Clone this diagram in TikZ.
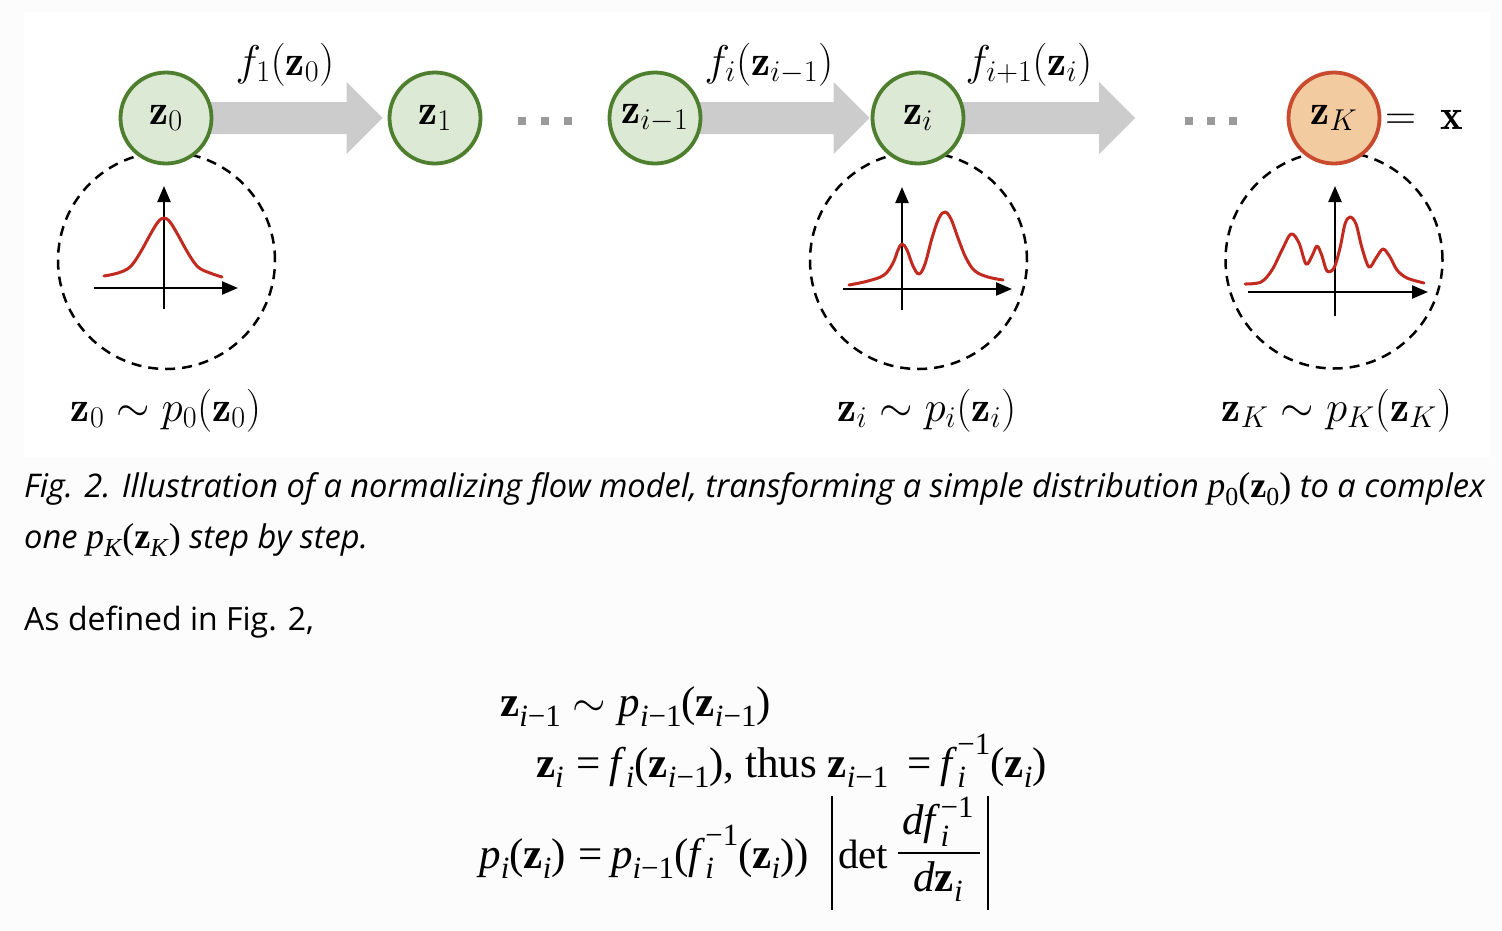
\RequirePackage{fix-cm}
\documentclass[tikz,border=0pt]{standalone}
\usepackage{fontspec}
\usepackage{graphicx}
\newfontfamily\capfont{Open Sans}
\newfontfamily\tms{Liberation Serif}
\usetikzlibrary{arrows.meta,calc,backgrounds}
\definecolor{pagebg}{HTML}{FCFCFC}
\definecolor{nodegreen}{HTML}{DCE9D5}
\definecolor{edgegreen}{HTML}{4E7F2E}
\definecolor{nodeorange}{HTML}{F2CBA0}
\definecolor{edgeorange}{HTML}{C94A2E}
\definecolor{flowgray}{HTML}{CCCCCC}
\definecolor{dotgray}{HTML}{9A9A9A}
\definecolor{curvered}{HTML}{C32A1F}
\newcommand\tsub[1]{\raisebox{-0.24em}{\scalebox{0.72}{#1}}}
\newcommand\tsup[1]{\raisebox{0.52em}{\scalebox{0.72}{#1}}}
\newcommand\tsubsup[2]{\rlap{\tsub{#1}}\tsup{#2}}
\newcommand\nsubsup[2]{\rlap{\raisebox{-0.3em}{\scalebox{0.72}{#1}}}\raisebox{0.38em}{\scalebox{0.72}{#2}}}
\newcommand\flowarrow[2]{%
  \fill[flowgray] ($(#1.center)+(0,-16)$) -- ($(#2)+(-36,-16)$) -- ($(#2)+(-36,-36)$)
    -- (#2) -- ($(#2)+(-36,36)$) -- ($(#2)+(-36,16)$) -- ($(#1.center)+(0,16)$) -- cycle;}
\tikzset{
  latent/.style={circle, draw=edgegreen, fill=nodegreen, line width=3.8pt,
    minimum size=91pt, inner sep=0pt, font=\fontsize{43}{50}\selectfont},
  observed/.style={latent, draw=edgeorange, fill=nodeorange},
  distr/.style={circle, draw=black, line width=2.5pt, dash pattern=on 10pt off 7pt,
    minimum size=217pt, inner sep=0pt},
  mathlabel/.style={inner sep=0pt, anchor=base, font=\fontsize{43}{50}\selectfont},
  axis/.style={line width=2.3pt, -{Triangle[length=16pt,width=13pt]}},
  density/.style={draw=curvered, line width=3pt, line cap=round, line join=round},
  dots/.style={fill=dotgray},
  capt/.style={inner sep=0pt, anchor=base west, font=\capfont\fontsize{32.6}{38}\selectfont},
  eqn/.style={inner sep=0pt, anchor=base west, font=\tms\fontsize{43}{50}\selectfont},
  eqnl/.style={eqn, anchor=base east},
}
\begin{document}
\begin{tikzpicture}[x=1pt, y=-1pt]
\useasboundingbox (0,0) rectangle (1502,930);
% flow nodes
\node[latent] (z0) at (166,118) {$\mathbf{z}_0$};
\node[latent] (z1) at (435,118) {$\mathbf{z}_1$};
\node[latent] (zim1) at (655,118) {$\mathbf{z}_{i-1}$};
\node[latent] (zi) at (918,118) {$\mathbf{z}_i$};
\node[observed] (zK) at (1334,118) {$\mathbf{z}_K$};
\node[inner sep=0pt, anchor=base west, font=\fontsize{43}{50}\selectfont] (eqx) at (1385,129) {$=\;\mathbf{x}$};
\coordinate (tip1) at ($(z1.west)+(-5,0)$);
\coordinate (tip2) at ($(zi.west)+(-1,0)$);
\coordinate (tip3) at (1135,118);
% labels of the flows
\node[mathlabel] (f1) at (285,75) {$f_1(\mathbf{z}_0)$};
\node[mathlabel] (fi) at (769,75) {$f_i(\mathbf{z}_{i-1})$};
\node[mathlabel] (fip1) at (1029,75) {$f_{i+1}(\mathbf{z}_i)$};
% distributions
\node[mathlabel] (p0) at (166,421) {$\mathbf{z}_0\sim p_0(\mathbf{z}_0)$};
\node[mathlabel] (pi) at (927,421) {$\mathbf{z}_i\sim p_i(\mathbf{z}_i)$};
\node[mathlabel] (pK) at (1337,421) {$\mathbf{z}_K\sim p_K(\mathbf{z}_K)$};
% dots
\foreach \x in {522,545,568,1189,1211,1233} \fill[dots] (\x-4,117) rectangle +(8,8);
\begin{scope}[on background layer]
  \fill[pagebg] (0,0) rectangle (1502,930);
  \fill[white] (24,12) rectangle (1490,457);
  \flowarrow{z0}{tip1}
  \flowarrow{zim1}{tip2}
  \flowarrow{zi}{tip3}
  \node[distr] (d0) at (166.5,260.5) {};
  \node[distr] (di) at (918.5,260.5) {};
  \node[distr] (dK) at (1334,260) {};
\end{scope}
% plots
\draw[axis] (94,288) -- (238,288);
\draw[axis] (164,309) -- (164,186);
\draw[density] plot[smooth, tension=0.6] coordinates {(104,276) (118,273) (130,267) (140,253) (150,235) (158,222) (164,218) (170,222) (178,235) (188,253) (198,267) (210,273) (222,277)};
\draw[axis] (843,289) -- (1012,289);
\draw[axis] (902,310) -- (902,187);
\draw[density] plot[smooth, tension=0.6] coordinates {(849,285) (868,281) (884,275) (893,263) (898,250) (902,244) (907,250) (913,266) (919,274) (925,264) (932,238) (939,218) (945,212) (951,219) (958,238) (966,258) (975,271) (988,277) (1003,280)};
\draw[axis] (1248,292) -- (1428,292);
\draw[axis] (1335,316) -- (1335,186);
\draw[density] plot[smooth, tension=0.55] coordinates {(1245,284) (1261,282) (1272,270) (1282,250) (1291,234) (1299,243) (1306,264) (1312,256) (1317,246) (1322,256) (1327,271) (1334,268) (1340,248) (1345,224) (1350,217) (1356,224) (1362,248) (1369,267) (1376,258) (1383,249) (1390,257) (1397,270) (1407,278) (1424,283)};
% caption and text
\node[capt] (cap1) at (24,497) {\itshape Fig. 2. Illustration of a normalizing flow model, transforming a simple distribution {\tms\upshape\fontsize{36}{40}\selectfont\textit{p}\tsub{0}(\textbf{z}\tsub{0})} to a complex};
\node[capt] (cap2) at (24,548) {\itshape one {\tms\upshape\fontsize{36}{40}\selectfont\textit{p}\tsub{\textit{K}}(\textbf{z}\tsub{\textit{K}})} step by step.};
\node[capt, font=\capfont\fontsize{32}{38}\selectfont] (intro) at (24,630) {As defined in Fig. 2,};
% equations (aligned at the relation)
\node[eqnl] (eq1l) at (561,716) {\textbf{z}\tsub{\textit{i}−1}};
\node[eqn] (eq1r) at (572,716) {$\sim$\hspace{0.3em}\textit{p}\tsub{\textit{i}−1}(\textbf{z}\tsub{\textit{i}−1})};
\node[eqnl] (eq2l) at (564,777) {\textbf{z}\tsub{\textit{i}}};
\node[eqn] (eq2r) at (576,777) {=\hspace{0.2em}\textit{f}\tsub{\textit{i}}(\textbf{z}\tsub{\textit{i}−1}), thus \textbf{z}\tsub{\textit{i}−1}\hspace{0.45em}=\hspace{0.2em}\textit{f}\tsubsup{\textit{i}}{−1}(\textbf{z}\tsub{\textit{i}})};
\node[eqnl] (eq3l) at (566,868) {\textit{p}\tsub{\textit{i}}(\textbf{z}\tsub{\textit{i}})};
\node[eqn] (eq3r) at (578,868) {=\hspace{0.2em}\textit{p}\tsub{\textit{i}−1}(\textit{f}\tsubsup{\textit{i}}{−1}(\textbf{z}\tsub{\textit{i}}))};
\node[eqn, font=\tms\fontsize{41}{48}\selectfont] (det) at (838,868) {det};
\node[eqn, anchor=base] (num) at (938,834) {\textit{df}\nsubsup{\textit{i}}{−1}};
\node[eqn, anchor=base] (den) at (938,891) {\textit{d}\textbf{z}\tsub{\textit{i}}};
\draw[line width=1.6pt] (898,853) -- (980,853);
\draw[line width=2.2pt] (832,796) -- (832,910);
\draw[line width=2.2pt] (988,796) -- (988,910);
\end{tikzpicture}
\end{document}
